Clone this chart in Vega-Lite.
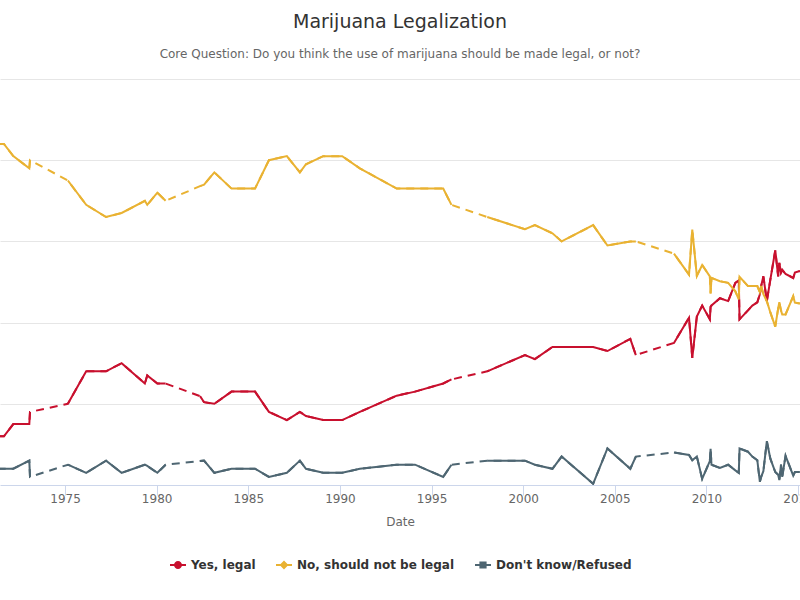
{
  "$schema": "https://vega.github.io/schema/vega-lite/v6.json",
  "width": 800,
  "height": 406,
  "autosize": {"type": "none"},
  "padding": {"top": 79, "left": 0, "right": 0, "bottom": 115},
  "background": "white",
  "title": {
    "text": "Marijuana Legalization",
    "subtitle": "Core Question: Do you think the use of marijuana should be made legal, or not?",
    "anchor": "middle",
    "frame": "group",
    "font": "DejaVu Sans",
    "fontSize": 19,
    "fontWeight": "normal",
    "color": "#333333",
    "subtitleFont": "DejaVu Sans",
    "subtitleFontSize": 12,
    "subtitleColor": "#666666",
    "subtitlePadding": 17,
    "offset": 19
  },
  "data": {
    "values": [
      {"d": "1969-10-19", "yes": 12, "no": 84, "dk": 4, "g": 0},
      {"d": "1971-09-01", "yes": 12, "no": 84, "dk": 4, "g": 0},
      {"d": "1972-03-06", "yes": 15, "no": 81, "dk": 4, "g": 0},
      {"d": "1973-01-19", "yes": 15, "no": 78, "dk": 6, "g": 0},
      {"d": "1973-02-02", "yes": 18, "no": 80, "dk": 2, "g": 0},
      {"d": "1975-02-27", "yes": 20, "no": 75, "dk": 5, "g": 1},
      {"d": "1976-02-27", "yes": 28, "no": 69, "dk": 3, "g": 1},
      {"d": "1977-03-29", "yes": 28, "no": 66, "dk": 6, "g": 1},
      {"d": "1978-02-02", "yes": 30, "no": 67, "dk": 3, "g": 1},
      {"d": "1979-05-11", "yes": 25, "no": 70, "dk": 5, "g": 1},
      {"d": "1979-06-28", "yes": 27, "no": 69, "dk": 4.7, "g": 1},
      {"d": "1980-01-15", "yes": 25, "no": 72, "dk": 3, "g": 1},
      {"d": "1980-06-28", "yes": 25, "no": 70, "dk": 5, "g": 1},
      {"d": "1982-05-15", "yes": 21.9, "no": 73.6, "dk": 5.9, "g": 2},
      {"d": "1982-08-03", "yes": 20.4, "no": 74, "dk": 6, "g": 2},
      {"d": "1983-02-24", "yes": 20, "no": 77, "dk": 3, "g": 2},
      {"d": "1984-02-02", "yes": 23, "no": 73, "dk": 4, "g": 2},
      {"d": "1985-05-15", "yes": 23, "no": 73, "dk": 4, "g": 2},
      {"d": "1986-02-16", "yes": 18, "no": 80, "dk": 2, "g": 2},
      {"d": "1987-02-09", "yes": 16, "no": 81, "dk": 3, "g": 2},
      {"d": "1987-10-26", "yes": 18, "no": 77, "dk": 6, "g": 2},
      {"d": "1988-02-24", "yes": 17, "no": 79, "dk": 4, "g": 2},
      {"d": "1989-02-02", "yes": 16, "no": 81, "dk": 3, "g": 2},
      {"d": "1990-02-16", "yes": 16, "no": 81, "dk": 3, "g": 2},
      {"d": "1991-02-02", "yes": 18, "no": 78, "dk": 4, "g": 2},
      {"d": "1993-02-06", "yes": 22, "no": 73, "dk": 5, "g": 2},
      {"d": "1994-02-06", "yes": 23, "no": 73, "dk": 5, "g": 2},
      {"d": "1995-08-22", "yes": 25, "no": 73, "dk": 2, "g": 2},
      {"d": "1996-02-02", "yes": 26, "no": 69, "dk": 5, "g": 2},
      {"d": "1998-01-15", "yes": 28, "no": 66, "dk": 6, "g": 3},
      {"d": "2000-02-06", "yes": 32, "no": 63, "dk": 6, "g": 3},
      {"d": "2000-08-22", "yes": 31, "no": 64, "dk": 5, "g": 3},
      {"d": "2001-08-07", "yes": 34, "no": 62, "dk": 4, "g": 3},
      {"d": "2002-02-06", "yes": 34, "no": 60, "dk": 7, "g": 3},
      {"d": "2003-10-27", "yes": 34, "no": 64, "dk": 0.3, "g": 3},
      {"d": "2004-08-07", "yes": 33, "no": 59, "dk": 9, "g": 3},
      {"d": "2005-11-06", "yes": 36, "no": 60, "dk": 4, "g": 3},
      {"d": "2006-02-24", "yes": 32, "no": 60, "dk": 7, "g": 3},
      {"d": "2008-03-25", "yes": 35, "no": 57, "dk": 8, "g": 4},
      {"d": "2009-01-19", "yes": 41.2, "no": 51.8, "dk": 7.4, "g": 4},
      {"d": "2009-03-25", "yes": 31.3, "no": 62.9, "dk": 6.1, "g": 4},
      {"d": "2009-06-24", "yes": 41.5, "no": 51.5, "dk": 7, "g": 4},
      {"d": "2009-10-08", "yes": 44.2, "no": 54.2, "dk": 1.5, "g": 4},
      {"d": "2010-03-10", "yes": 40.8, "no": 51.4, "dk": 5.9, "g": 4},
      {"d": "2010-03-25", "yes": 43.9, "no": 47.2, "dk": 8.9, "g": 4},
      {"d": "2010-04-12", "yes": 44.2, "no": 51, "dk": 5, "g": 4},
      {"d": "2010-09-27", "yes": 46, "no": 50.2, "dk": 4.2, "g": 4},
      {"d": "2011-03-10", "yes": 45.3, "no": 49.8, "dk": 5, "g": 4},
      {"d": "2011-07-31", "yes": 49.8, "no": 47.7, "dk": 3.6, "g": 4},
      {"d": "2011-10-08", "yes": 50.4, "no": 45.7, "dk": 3, "g": 4},
      {"d": "2011-10-23", "yes": 40.8, "no": 51.3, "dk": 9, "g": 4},
      {"d": "2012-04-08", "yes": 43, "no": 49, "dk": 8.2, "g": 4},
      {"d": "2012-07-04", "yes": 44.2, "no": 49, "dk": 7, "g": 4},
      {"d": "2012-10-11", "yes": 45, "no": 49, "dk": 6.1, "g": 4},
      {"d": "2012-12-01", "yes": 47, "no": 47.5, "dk": 0.8, "g": 4},
      {"d": "2012-12-27", "yes": 49, "no": 49, "dk": 2, "g": 4},
      {"d": "2013-02-09", "yes": 51.4, "no": 47, "dk": 3.4, "g": 4},
      {"d": "2013-04-19", "yes": 45.3, "no": 45.3, "dk": 10.8, "g": 4},
      {"d": "2013-06-28", "yes": 50.6, "no": 42.5, "dk": 6.5, "g": 4},
      {"d": "2013-10-04", "yes": 57.8, "no": 39, "dk": 3.2, "g": 4},
      {"d": "2013-12-01", "yes": 51.4, "no": 43.5, "dk": 2.5, "g": 4},
      {"d": "2013-12-24", "yes": 54.7, "no": 45, "dk": 1.2, "g": 4},
      {"d": "2014-01-26", "yes": 52.3, "no": 43, "dk": 5, "g": 4},
      {"d": "2014-02-20", "yes": 53, "no": 42, "dk": 2, "g": 4},
      {"d": "2014-04-27", "yes": 52, "no": 42, "dk": 7.2, "g": 4},
      {"d": "2014-09-27", "yes": 51, "no": 46.5, "dk": 2.3, "g": 4},
      {"d": "2014-10-30", "yes": 52.3, "no": 44.9, "dk": 3.2, "g": 4},
      {"d": "2015-02-06", "yes": 52.7, "no": 44.7, "dk": 3.2, "g": 4}
    ]
  },
  "transform": [{"fold": ["yes", "no", "dk"], "as": ["k", "v"]}],
  "encoding": {
    "x": {
      "field": "d",
      "type": "temporal",
      "title": "Date",
      "scale": {"domain": [{"year": 1971, "month": 6, "date": 15}, {"year": 2015, "month": 2, "date": 9}]},
      "axis": {
        "format": "%Y",
        "tickCount": {"interval": "year", "step": 5},
        "grid": false,
        "domainColor": "#ccd6eb",
        "tickColor": "#ccd6eb",
        "tickSize": 10,
        "labelFont": "DejaVu Sans",
        "labelFontSize": 12,
        "labelColor": "#666666",
        "labelPadding": -2,
        "labelFlush": false,
        "labelOverlap": false,
        "titleFont": "DejaVu Sans",
        "titleFontSize": 12,
        "titleFontWeight": "normal",
        "titleColor": "#666666",
        "titlePadding": 12
      }
    },
    "y": {
      "field": "v",
      "type": "quantitative",
      "scale": {"domain": [0, 100], "nice": false},
      "axis": {
        "values": [20, 40, 60, 80, 100],
        "labels": false,
        "ticks": false,
        "domain": false,
        "title": null,
        "grid": true,
        "gridColor": "#e6e6e6"
      }
    },
    "color": {
      "field": "k",
      "type": "nominal",
      "scale": {"domain": ["yes", "no", "dk"], "range": ["#c8102e", "#e9b232", "#4e6672"]},
      "legend": {
        "title": null,
        "orient": "none",
        "legendX": 170,
        "legendY": 478,
        "labelExpr": "datum.value === 'yes' ? 'Yes, legal' : datum.value === 'no' ? 'No, should not be legal' : \"Don't know/Refused\""
      }
    }
  },
  "layer": [
    {
      "transform": [{"filter": "datum.v < -1"}],
      "mark": {"type": "point", "filled": true, "opacity": 1, "size": 256, "strokeWidth": 0},
      "encoding": {
        "shape": {
          "field": "k",
          "type": "nominal",
          "scale": {
            "domain": ["yes", "no", "dk"],
            "range": [
              "M-1,-0.125H1V0.125H-1ZM-0.5,0A0.5,0.5 0 1,1 0.5,0A0.5,0.5 0 1,1 -0.5,0Z",
              "M-1,-0.125H1V0.125H-1ZM0,-0.55L0.55,0L0,0.55L-0.55,0Z",
              "M-1,-0.125H1V0.125H-1ZM-0.45,-0.45H0.45V0.45H-0.45Z"
            ]
          },
          "legend": {
            "title": null,
            "orient": "none",
            "legendX": 170,
            "legendY": 478,
            "labelExpr": "datum.value === 'yes' ? 'Yes, legal' : datum.value === 'no' ? 'No, should not be legal' : \"Don't know/Refused\""
          }
        }
      }
    },
    {"mark": {"type": "line", "strokeWidth": 2, "strokeDash": [8, 6], "clip": true}},
    {
      "mark": {"type": "line", "strokeWidth": 2, "clip": true},
      "encoding": {"detail": {"field": "g", "type": "nominal"}}
    }
  ],
  "config": {
    "view": {"stroke": null},
    "legend": {
      "direction": "horizontal",
      "symbolSize": 256,
      "symbolStrokeWidth": 0,
      "labelFont": "DejaVu Sans",
      "labelFontSize": 12,
      "labelFontWeight": "bold",
      "labelColor": "#333333",
      "labelOffset": 5,
      "columnPadding": 20
    }
  }
}
